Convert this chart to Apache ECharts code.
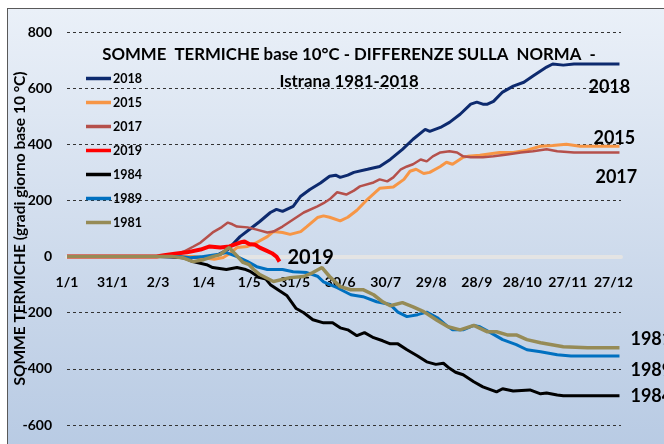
<!DOCTYPE html>
<html><head><meta charset="utf-8">
<script src="https://cdn.jsdelivr.net/npm/echarts@6/dist/echarts.min.js"></script>
<style>
html,body{margin:0;padding:0;background:#fff;overflow:hidden}
#frame{position:absolute;left:7px;top:8px;width:720px;height:520px;border:1.5px solid #595959;
 background:linear-gradient(to bottom,#eaf0f8 0%,#c9d7ea 55%,#afc4e0 100%)}
#c{position:absolute;left:0;top:0;width:664px;height:444px}
</style>
</head><body><div id="frame"></div><div id="c"></div>
<script>
// x tick labels every 30 days starting from 1 January (0-based day offset)
const tickLabels = ['1/1','31/1','2/3','1/4','1/5','31/5','30/6','30/7','29/8','28/9','28/10','27/11','27/12'];
const seriesNames = ['2018','2015','2017','2019','1984','1989','1981'];
const yMin = -600, yMax = 800, yStep = 200;

// [day of year, degree-days difference]
const s2018 = [[1,0],[60,0],[75,-3],[90,-2],[100,5],[107,25],[115,71],[122,100],[128,125],[135,157],[139,168],[143,161],[150,179],[155,215],[161,239],[168,262],[174,286],[178,290],[181,282],[186,290],[190,300],[199,311],[207,321],[214,346],[222,382],[229,418],[237,453],[240,446],[247,460],[253,478],[260,507],[267,543],[271,550],[275,543],[278,543],[282,553],[288,586],[295,607],[302,621],[308,643],[313,661],[317,675],[321,686],[328,682],[335,686],[365,686]];
const s2015 = [[1,0],[85,0],[92,-5],[98,-10],[104,-3],[108,10],[113,32],[120,36],[126,50],[133,71],[137,89],[143,86],[148,79],[155,89],[159,107],[166,139],[170,145],[174,140],[181,127],[186,140],[192,165],[199,204],[207,243],[216,248],[223,275],[227,304],[231,311],[236,296],[240,300],[247,321],[251,336],[255,329],[262,354],[265,357],[273,361],[286,371],[295,371],[304,379],[313,393],[321,396],[330,400],[339,393],[365,393]];
const s2017 = [[1,0],[65,0],[72,5],[78,18],[84,35],[89,50],[97,86],[103,105],[107,121],[110,115],[113,107],[120,104],[126,96],[133,86],[137,89],[143,107],[148,125],[157,157],[166,179],[170,190],[174,204],[179,229],[185,221],[190,235],[194,250],[203,264],[207,275],[212,268],[216,282],[221,311],[225,321],[229,329],[234,346],[238,339],[242,357],[247,371],[253,375],[258,371],[262,357],[267,354],[275,354],[282,357],[291,364],[300,371],[308,375],[317,382],[324,375],[335,371],[365,371]];
const s2019 = [[1,0],[60,0],[65,5],[72,10],[80,15],[89,25],[95,36],[102,32],[108,36],[115,50],[118,54],[121,45],[125,42],[128,32],[132,22],[136,12],[139,0],[141,-18]];
const s1984 = [[1,0],[70,0],[78,-5],[84,-18],[93,-29],[97,-39],[106,-46],[113,-39],[118,-45],[122,-54],[128,-75],[132,-80],[135,-100],[141,-122],[146,-140],[152,-185],[157,-200],[163,-225],[170,-236],[176,-236],[181,-254],[186,-261],[192,-282],[197,-271],[203,-289],[209,-300],[214,-311],[219,-311],[225,-332],[232,-354],[238,-375],[244,-384],[249,-380],[253,-398],[257,-412],[262,-421],[269,-446],[275,-464],[284,-482],[288,-471],[295,-479],[306,-475],[313,-489],[317,-486],[324,-493],[328,-496],[365,-496]];
const s1989 = [[1,0],[75,0],[82,-4],[91,0],[100,7],[106,14],[113,0],[120,-18],[126,-36],[133,-46],[143,-46],[150,-54],[159,-57],[166,-70],[170,-90],[179,-111],[188,-136],[196,-143],[205,-161],[214,-171],[219,-198],[225,-214],[232,-207],[238,-198],[245,-218],[251,-245],[255,-261],[262,-261],[269,-245],[273,-250],[280,-271],[288,-296],[297,-314],[304,-332],[313,-339],[324,-350],[333,-354],[365,-354]];
const s1981 = [[1,0],[70,0],[77,-4],[84,-18],[91,-11],[97,0],[102,7],[106,25],[108,32],[111,14],[117,-21],[121,-29],[124,-46],[128,-64],[137,-89],[148,-75],[157,-71],[163,-57],[169,-39],[174,-71],[181,-107],[188,-118],[196,-118],[203,-136],[209,-161],[214,-175],[222,-164],[229,-179],[236,-196],[245,-228],[252,-250],[260,-261],[269,-245],[278,-268],[284,-268],[291,-279],[297,-279],[304,-296],[313,-307],[328,-321],[344,-325],[365,-325]];

const seriesData = [s2018, s2015, s2017, s2019, s1984, s1989, s1981];
const colors = ['#0d2a6e','#f79646','#b5504b','#ff0000','#000000','#0070c0','#968b56'];
const widths = [3,3,2.5,4,3,3,3.5];
const labelOffsets = [[-31,23],[-26,-8],[-24,25],[8,-4],[11,0],[11,14],[11,-9]];
const labelSizes = [18,18,18,20,18,18,18];
const FONT = 'Lato';
const gridH = 393;
// place the category axis on the zero value line
const zeroOffset = -gridH * (0 - yMin) / (yMax - yMin);

const chart = echarts.init(document.getElementById('c'), null, {renderer:'canvas'});
chart.setOption({
  backgroundColor: 'transparent',
  animation: false,
  title: {
    text: 'SOMME  TERMICHE base 10°C - DIFFERENZE SULLA  NORMA  -\nIstrana 1981-2018',
    left: 344, top: 36, textAlign: 'center',
    textStyle: {fontFamily: FONT, fontWeight: 'bold', fontSize: 16.8, color: '#000', lineHeight: 27}
  },
  legend: {
    orient: 'vertical', left: 86, top: 72, padding: 0, itemWidth: 25, itemHeight: 14, itemGap: 11,
    icon: 'path://M0,0 L25,0 L25,3.5 L0,3.5 Z',
    data: seriesNames,
    textStyle: {fontFamily: FONT, fontWeight: 'bold', fontSize: 12.5, color: '#000', padding: [0,0,0,-3]}
  },
  grid: {left: 67, top: 32, width: 554, height: gridH, containLabel: false, outerBoundsMode: 'none'},
  xAxis: {
    type: 'value', min: 0, max: 365, interval: 30,
    offset: zeroOffset,
    axisLine: {onZero: false, lineStyle: {color: '#e4e4e4', width: 4, type: [3,1]}},
    axisTick: {show: false},
    splitLine: {show: false},
    axisLabel: {
      margin: 19, fontFamily: FONT, fontWeight: 'bold', fontSize: 14, color: '#000',
      showMaxLabel: false,
      formatter: v => (v % 30 === 0 && tickLabels[v / 30] !== undefined) ? tickLabels[v / 30] : ''
    }
  },
  yAxis: {
    type: 'value', min: yMin, max: yMax, interval: yStep,
    name: 'SOMME TERMICHE (gradi giorno base 10 °C)',
    nameLocation: 'middle', nameGap: 39, nameRotate: 90, nameMoveOverlap: false,
    nameTextStyle: {fontFamily: FONT, fontWeight: 'bold', fontSize: 15.5, color: '#000'},
    axisLine: {show: false, onZero: false}, axisTick: {show: false},
    axisLabel: {margin: 15, fontFamily: FONT, fontWeight: 'bold', fontSize: 14, color: '#000'},
    splitLine: {lineStyle: {color: '#333', width: 1, type: [3,3]}}
  },
  series: seriesNames.map((n, i) => ({
    name: n, type: 'line', symbol: 'none', clip: false,
    data: seriesData[i].map(p => [p[0] - 1, p[1]]),
    color: colors[i],
    lineStyle: {color: colors[i], width: widths[i]},
    endLabel: {
      show: true, formatter: '{a}', distance: 0, offset: labelOffsets[i],
      align: 'left', verticalAlign: 'middle',
      fontFamily: FONT, fontWeight: 'bold', fontSize: labelSizes[i], color: '#000'
    },
    z: 2 + i
  }))
});
</script>
</body></html>
